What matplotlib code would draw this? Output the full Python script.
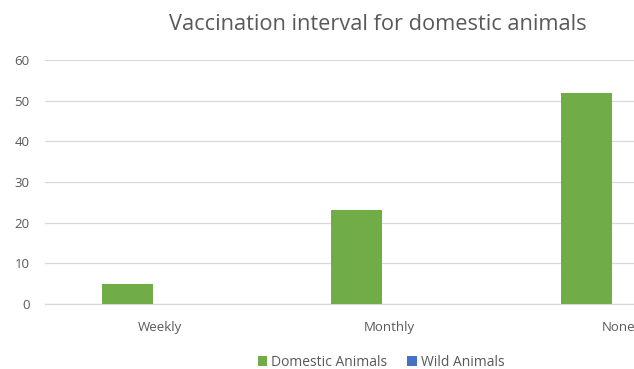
import matplotlib.pyplot as plt
import numpy as np

# ====== データ ======
categories = ["Weekly", "Monthly", "None"]
domestic = [5, 23, 52]
wild = [0, 0, 0]
y_ticks = [0, 10, 20, 30, 40, 50, 60]

GREEN = "#70AD47"
BLUE = "#4472C4"
TEXT = "#595959"
GRID = "#D9D9D9"

plt.rcParams["font.family"] = ["Open Sans", "DejaVu Sans"]

fig = plt.figure(figsize=(6.34, 3.69), dpi=100)
# 右側は元画像で切れているので、軸を図の外まで伸ばす
ax = fig.add_axes([45 / 634, 1 - 304 / 369, 688.5 / 634, 244 / 369])

x = np.arange(len(categories))
w = 0.222
ax.bar(x - 0.142, domestic, width=w, color=GREEN, label="Domestic Animals", zorder=3)
ax.bar(x + 0.142, wild, width=w, color=BLUE, label="Wild Animals", zorder=3)

ax.set_xlim(-0.5, len(categories) - 0.5)
ax.set_ylim(0, 60)
ax.set_yticks(y_ticks)
ax.set_xticks(x)
ax.set_xticklabels(categories)
ax.yaxis.grid(True, color=GRID, linewidth=0.9, zorder=0)
for s in ["top", "right", "left"]:
    ax.spines[s].set_visible(False)
ax.spines["bottom"].set_color(GRID)
ax.spines["bottom"].set_linewidth(0.9)
ax.tick_params(axis="both", length=0, colors=TEXT, labelsize=9.5)
ax.tick_params(axis="x", pad=12)
ax.tick_params(axis="y", pad=11)

fig.text(378 / 634, 1 - 24 / 369, "Vaccination interval for domestic animals",
         ha="center", va="center", fontsize=15.7, color=TEXT)

fig.legend(loc="center", bbox_to_anchor=(381 / 634, 1 - 362 / 369), ncol=2,
           frameon=False, fontsize=10, labelcolor=TEXT, handlelength=0.7,
           handleheight=0.7, handletextpad=0.3, columnspacing=1.4)

fig.savefig("out.png", dpi=100)
